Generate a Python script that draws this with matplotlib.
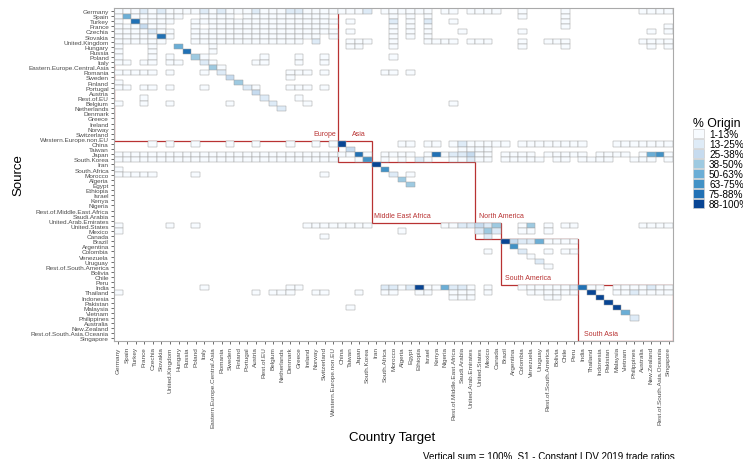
import numpy as np
import matplotlib
matplotlib.use("Agg")
import matplotlib.pyplot as plt
from matplotlib.patches import Rectangle, Patch

plt.rcParams['font.family'] = ['Liberation Sans', 'DejaVu Sans']

countries = [
    "Germany", "Spain", "Turkey", "France", "Czechia", "Slovakia", "United.Kingdom",
    "Hungary", "Russia", "Poland", "Italy", "Eastern.Europe.Central.Asia", "Romania",
    "Sweden", "Finland", "Portugal", "Austria", "Rest.of.EU", "Belgium", "Netherlands",
    "Denmark", "Greece", "Ireland", "Norway", "Switzerland", "Western.Europe.non.EU",
    "China", "Taiwan", "Japan", "South.Korea",
    "Iran", "South.Africa", "Morocco", "Algeria", "Egypt", "Ethiopia", "Israel", "Kenya",
    "Nigeria", "Rest.of.Middle.East.Africa", "Saudi.Arabia", "United.Arab.Emirates",
    "United.States", "Mexico", "Canada",
    "Brazil", "Argentina", "Colombia", "Venezuela", "Uruguay", "Rest.of.South.America",
    "Bolivia", "Chile", "Peru",
    "India", "Thailand", "Indonesia", "Pakistan", "Malaysia", "Vietnam", "Philippines",
    "Australia", "New.Zealand", "Rest.of.South.Asia.Oceania", "Singapore",
]

bin_labels = ["1-13%", "13-25%", "25-38%", "38-50%", "50-63%", "63-75%", "75-88%", "88-100%"]
bin_colors = ["#f7fbff", "#deebf7", "#c6dbef", "#9ecae1", "#6baed6", "#4292c6", "#2171b5", "#084594"]

# regions: (name, first country, last country)
regions = [
    ("Europe", "Germany", "Western.Europe.non.EU"),
    ("Asia", "China", "South.Korea"),
    ("Middle East Africa", "Iran", "United.Arab.Emirates"),
    ("North America", "United.States", "Canada"),
    ("South America", "Brazil", "Peru"),
    ("South Asia", "India", "Singapore"),
]

# share bin per (source row, target column); '.' = below 1%
# groups: Europe(26) | Asia(4) | Middle East Africa(12) | North America(3) | South America(9) | South Asia(11)
share_bins = [
    "11121211112121112111221111|1112|.111111.11.1|111|..1....1.|.......1111",  # Germany
    "15111111..1111.1111111111.|....|..1.1.1.....|...|..1....1.|...........",  # Spain
    "1.71111..11111111111111111|.1..|..2.1.2..1..|...|.......1.|...........",  # Turkey
    "111311...1.11111111111111.|....|..1.1.1.....|...|.......1.|..........1",  # France
    "1111211..11111111111111111|.1..|..1.1.1...1.|...|..1......|........1.1",  # Czechia
    "1111171..111111111111111.1|....|..1.1.1.....|...|.........|...........",  # Slovakia
    "111111...1111111111111.2..|.111|..1...1111.1|11.|..1..111.|.......1111",  # United.Kingdom
    "1...1..5...1..............|.11.|..1.........|...|..1....1.|........1.1",  # Hungary
    "1...1...7..1..............|....|............|...|.........|...........",  # Russia
    "1...1.1..41......1...1..1.|....|..1.........|...|.........|...........",  # Poland
    "11.11.11..21....11...1..1.|....|............|...|.........|...........",  # Italy
    "...........41.............|....|............|...|.........|...........",  # Eastern.Europe.Central.Asia
    "11111.1...1.2.......111.1.|....|.11.1.......|...|.........|...........",  # Romania
    ".............3......1.....|....|............|...|.........|...........",  # Sweden
    "1.............4...........|....|............|...|.........|...........",  # Finland
    "11.11.1...1....21...111.1.|....|............|...|.........|...........",  # Portugal
    "................3.........|....|............|...|.........|...........",  # Austria
    "...1.............2...1....|....|............|...|.........|...........",  # Rest.of.EU
    "1..1..1......1....2...1...|....|.........1..|...|.........|...........",  # Belgium
    "...................2......|....|............|...|.........|...........",  # Netherlands
    "..........................|....|............|...|.........|...........",  # Denmark
    "..........................|....|............|...|.........|...........",  # Greece
    "..........................|....|............|...|.........|...........",  # Ireland
    "..........................|....|............|...|.........|...........",  # Norway
    "..........................|....|............|...|.........|...........",  # Switzerland
    "..........................|....|............|...|.........|...........",  # Western.Europe.non.EU
    "....1.1..1...1..1...1..1.1|8...|...11.11.121|111|1.1111111|1...1111111",  # China
    "..........................|.3..|..........11|11.|.........|...........",  # Taiwan
    "11111111111111111111111111|1171|.1111.171223|11.|1111.1111|1.1111.1561",  # Japan
    "11111111111111111111111111|..16|.1.1.21..112|11.|11111.11.|1111..111.1",  # South.Korea
    "..........................|....|8...........|...|.........|...........",  # Iran
    "1.........................|....|.6..........|...|.........|...........",  # South.Africa
    "11111....1..............1.|....|..2.1.......|...|.........|...........",  # Morocco
    "..........................|....|...4........|...|.........|...........",  # Algeria
    "..........................|....|....4.......|...|.........|...........",  # Egypt
    "..........................|....|............|...|.........|...........",  # Ethiopia
    "..........................|....|............|...|.........|...........",  # Israel
    "..........................|....|............|...|.........|...........",  # Kenya
    "..........................|....|............|...|.........|...........",  # Nigeria
    "..........................|....|............|...|.........|...........",  # Rest.of.Middle.East.Africa
    "..........................|....|............|...|.........|...........",  # Saudi.Arabia
    "..........................|....|............|...|.........|...........",  # United.Arab.Emirates
    "1.....1..1............1111|1111|........1122|324|..14.1.11|.......1111",  # United.States
    "1.........................|....|...1........|242|..11.1...|...........",  # Mexico
    "........................1.|....|............|.2.|.........|...........",  # Canada
    "..........................|....|............|...|832251111|...........",  # Brazil
    "..........................|....|............|...|.6.......|...........",  # Argentina
    "..........................|....|............|.1.|..2..1.11|...........",  # Colombia
    "..........................|....|............|...|...1.....|...........",  # Venezuela
    "..........................|....|............|...|....2....|...........",  # Uruguay
    "..........................|....|............|...|.....1...|...........",  # Rest.of.South.America
    "..........................|....|............|...|.........|...........",  # Bolivia
    "..........................|....|............|...|.........|...........",  # Chile
    "..........................|....|............|...|.........|...........",  # Peru
    "..........1.........11....|....|.22128115221|.1.|..1111112|711.1111211",  # India
    "1...............1.111..11.|..1.|.11..11..111|.1.|...111111|.8..1121111",  # Thailand
    "..........................|....|.........111|...|.....11..|..8........",  # Indonesia
    "..........................|....|............|...|.........|...8.......",  # Pakistan
    "..........................|.1..|............|...|.........|....8......",  # Malaysia
    "..........................|....|............|...|.........|.....5.....",  # Vietnam
    "..........................|....|............|...|.........|......2....",  # Philippines
    "..........................|....|............|...|.........|...........",  # Australia
    "..........................|....|............|...|.........|...........",  # New.Zealand
    "..........................|....|............|...|.........|...........",  # Rest.of.South.Asia.Oceania
    "..........................|....|............|...|.........|...........",  # Singapore
]

caption = "Vertical sum = 100%, S1 - Constant LDV 2019 trade ratios"

# ---------------------------------------------------------------------------
n = len(countries)
src_i, tgt_i, lvl = [], [], []
for r, row in enumerate(share_bins):
    row = row.replace("|", "")
    assert len(row) == n, (r, len(row))
    for c, ch in enumerate(row):
        if ch != ".":
            src_i.append(r)
            tgt_i.append(c)
            lvl.append(int(ch))
src_i = np.array(src_i)
tgt_i = np.array(tgt_i)
lvl = np.array(lvl)

W, H = 743, 460
fig = plt.figure(figsize=(W / 100, H / 100), dpi=100)
left, right, top, bottom = 114, 673, 9.4, 342
ax = fig.add_axes([left / W, 1 - bottom / H, (right - left) / W, (bottom - top) / H])

red = "#b83232"
for name, a, b in regions:
    i0, i1 = countries.index(a), countries.index(b)
    ax.add_patch(Rectangle((i0 - 0.5, i0 - 0.5), i1 - i0 + 1, i1 - i0 + 1,
                           fill=False, edgecolor=red, linewidth=0.9, zorder=1))

ax.bar(tgt_i, 1.0, bottom=src_i - 0.5, width=1.0,
       color=[bin_colors[v - 1] for v in lvl],
       edgecolor="#a0a0a0", linewidth=0.35, zorder=2)

label_pos = {
    "Europe": (25.3, 23.9, "right"),
    "Asia": (27.2, 23.9, "left"),
    "Middle East Africa": (29.7, 39.9, "left"),
    "North America": (41.9, 39.9, "left"),
    "South America": (45.0, 52.0, "left"),
    "South Asia": (54.15, 63.0, "left"),
}
for name, (x, y, ha) in label_pos.items():
    ax.text(x, y, name, color=red, fontsize=5, ha=ha, va="center", zorder=3)

ax.set_xlim(-0.5, n - 0.5)
ax.set_ylim(n - 0.5, -0.5)
ax.set_xticks(range(n))
ax.set_yticks(range(n))
ax.set_xticklabels(countries, rotation=90, fontsize=4.6, color="#4d4d4d")
ax.set_yticklabels(countries, fontsize=4.6, color="#4d4d4d")
ax.tick_params(axis="both", length=2.2, width=0.5, color="#333333", pad=1.5)
for s in ax.spines.values():
    s.set_color("#aaaaaa")
    s.set_linewidth(0.8)

fig.text(18 / W, 1 - 175 / H, "Source", rotation=90, fontsize=9.5, ha="center", va="center")
fig.text(392 / W, 1 - 438 / H, "Country Target", fontsize=9.5, ha="center", va="center")
fig.text(675 / W, 1 - 457 / H, caption, fontsize=7, ha="right", va="center")

handles = [Patch(facecolor=c, edgecolor="#cfcfcf", linewidth=0.5) for c in bin_colors]
leg = fig.legend(handles, bin_labels, title="% Origin", loc="upper left",
                 bbox_to_anchor=(693 / W, 1 - 118 / H), frameon=False,
                 fontsize=7.2, title_fontsize=8.8, handlelength=1.1, handleheight=1.0,
                 labelspacing=0.0, handletextpad=0.5, borderpad=0, borderaxespad=0)
leg._legend_box.align = "left"

fig.savefig("out.png", dpi=100)
